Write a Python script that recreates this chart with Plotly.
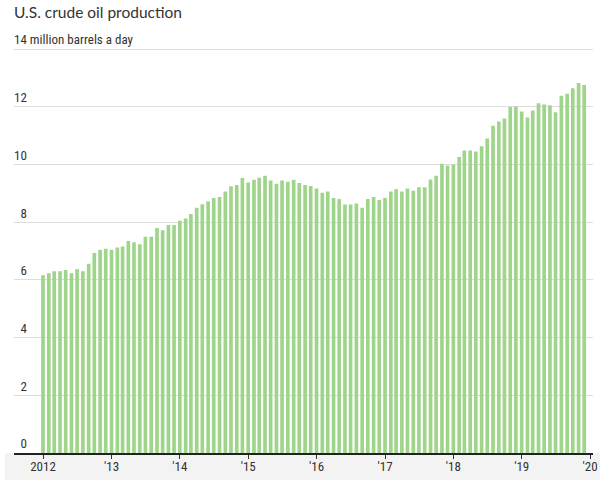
import plotly.graph_objects as go

years = [2012, 2013, 2014, 2015, 2016, 2017, 2018, 2019]

prod_2012 = [6.16, 6.23, 6.30, 6.30, 6.34, 6.23, 6.37, 6.30, 6.56, 6.93, 7.04, 7.08]
prod_2013 = [7.04, 7.12, 7.16, 7.35, 7.30, 7.23, 7.49, 7.49, 7.80, 7.72, 7.90, 7.90]
prod_2014 = [8.05, 8.13, 8.28, 8.50, 8.62, 8.72, 8.84, 8.87, 9.06, 9.24, 9.29, 9.53]
prod_2015 = [9.37, 9.47, 9.54, 9.61, 9.44, 9.33, 9.44, 9.40, 9.47, 9.36, 9.29, 9.25]
prod_2016 = [9.17, 9.02, 9.06, 8.84, 8.80, 8.61, 8.61, 8.65, 8.50, 8.80, 8.87, 8.77]
prod_2017 = [8.84, 9.06, 9.14, 9.06, 9.17, 9.09, 9.21, 9.21, 9.48, 9.61, 10.02, 9.96]
prod_2018 = [10.00, 10.26, 10.48, 10.48, 10.45, 10.63, 10.90, 11.34, 11.49, 11.59, 11.99, 12.01]
prod_2019 = [11.83, 11.63, 11.87, 12.12, 12.08, 12.05, 11.81, 12.38, 12.45, 12.64, 12.82, 12.75]

production = (prod_2012 + prod_2013 + prod_2014 + prod_2015 +
              prod_2016 + prod_2017 + prod_2018 + prod_2019)
months = [f"{y}-{m:02d}-01" for y in years for m in range(1, 13)]

x_tickvals = ["2012-01-01", "2013-01-01", "2014-01-01", "2015-01-01", "2016-01-01",
              "2017-01-01", "2018-01-01", "2019-01-01", "2020-01-01"]
x_ticktext = ["2012", "'13", "'14", "'15", "'16", "'17", "'18", "'19", "'20"]

y_tickvals = [0, 2, 4, 6, 8, 10, 12, 14]
y_ticktext = ["\u20070", "\u20072", "\u20074", "\u20076", "\u20078", "10", "12",
              "14 million barrels a day"]

narrow = "Liberation Sans Narrow, Roboto Condensed, Arial Narrow, Roboto, sans-serif"

# plot area: left 14px, right 593px, y=0 at 453px, y=14 at 49px
top_px = 30
y_top = 14 * (453 - top_px) / (453 - 49)

fig = go.Figure()
fig.add_trace(go.Bar(
    x=months, y=production,
    marker=dict(color="#9fd58b", line=dict(width=0)),
    hoverinfo="x+y",
))

fig.update_layout(
    width=605, height=480,
    margin=dict(l=14, r=12, t=top_px, b=27, autoexpand=False),
    paper_bgcolor="white", plot_bgcolor="white",
    bargap=0.3,
    showlegend=False,
    title=dict(
        text="U.S. crude oil production",
        x=14 / 605, xref="container", xanchor="left",
        y=1 - 13 / 480, yref="container", yanchor="middle",
        font=dict(family="Lato, Open Sans, sans-serif", size=15.5, color="#333333"),
    ),
    xaxis=dict(
        type="date",
        range=["2011-07-30", "2020-01-17"],
        tickvals=x_tickvals, ticktext=x_ticktext,
        showgrid=False, zeroline=False,
        showline=True, linecolor="#222222", linewidth=1.5,
        ticks="outside", ticklen=4, tickcolor="#333333", tickwidth=1,
        ticklabelstandoff=-3,
        tickfont=dict(family=narrow, size=13, color="#333333"),
        automargin=False,
        fixedrange=True,
    ),
    yaxis=dict(
        range=[0, y_top],
        side="right", anchor="free", position=0,
        tickvals=y_tickvals, ticktext=y_ticktext,
        ticklabelposition="outside top",
        ticklabelstandoff=-1,
        showgrid=True, gridcolor="#dddddd", gridwidth=1,
        zeroline=False, showline=False, ticks="",
        tickfont=dict(family=narrow, size=13, color="#333333"),
        automargin=False,
        fixedrange=True,
    ),
    shapes=[dict(
        type="rect", xref="paper", yref="paper",
        x0=-9 / 579, x1=1 + 7 / 579, y0=-27 / (453 - top_px), y1=0,
        fillcolor="#f3f3f3", line=dict(width=0), layer="below",
    )],
)

fig.write_html(
    "out.html",
    config={"displayModeBar": False},
    post_script="document.body.style.margin='0';document.body.style.overflow='hidden';",
)
